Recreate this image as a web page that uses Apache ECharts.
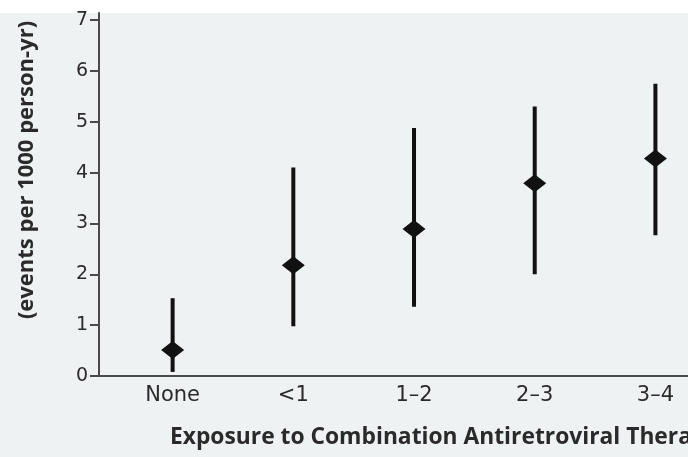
<!DOCTYPE html>
<html>
<head>
<meta charset="utf-8">
<script src="https://cdn.jsdelivr.net/npm/echarts@6/dist/echarts.min.js"></script>
<style>
html,body{margin:0;padding:0;background:#fff;}
#chart{width:688px;height:457px;}
</style>
</head>
<body>
<div id="chart"></div>
<script>
var categories = ['None', '<1', '1\u20132', '2\u20133', '3\u20134'];
var estimates = [0.51, 2.18, 2.89, 3.79, 4.28];
var lowerCI = [0.08, 0.98, 1.36, 2.0, 2.77];
var upperCI = [1.53, 4.10, 4.88, 5.30, 5.75];
var yTicks = [0, 1, 2, 3, 4, 5, 6, 7];
var xTitle = 'Exposure to Combination Antiretroviral Therapy (yr)';
var yTitle = '(events per 1000 person-yr)';

var catIdx = categories.map(function (c, i) { return i; });
var pointData = catIdx.map(function (i) { return [i, estimates[i]]; });
var ciData = catIdx.map(function (i) { return [i, lowerCI[i], upperCI[i]]; });

var chart = echarts.init(document.getElementById('chart'), null, {renderer: 'canvas'});
chart.setOption({
  backgroundColor: '#eef2f3',
  animation: false,
  grid: {left: 99, right: 0, top: 13, bottom: 81, containLabel: false},
  graphic: [
    {type: 'rect', left: 0, top: 0, z: -10, shape: {width: 688, height: 13}, style: {fill: '#ffffff'}},
    {type: 'text', x: 27, y: 170, rotation: Math.PI / 2,
     style: {text: yTitle, fill: '#2a2a2a', font: 'bold 22px "Open Sans"', align: 'center', verticalAlign: 'middle'}},
    {type: 'text', x: 170, y: 438,
     style: {text: xTitle, fill: '#2a2a2a', font: 'bold 22.8px "Open Sans"', align: 'left', verticalAlign: 'middle'}}
  ],
  xAxis: {
    type: 'value', min: -0.61, max: 4.27,
    splitLine: {show: false},
    axisLine: {show: true, onZero: false, lineStyle: {color: '#4a4a4a', width: 2}},
    axisTick: {show: false},
    axisLabel: {
      customValues: catIdx,
      formatter: function (v) { return categories[Math.round(v)]; },
      color: '#2a2a2a', fontFamily: 'DejaVu Sans', fontSize: 21, margin: 9
    }
  },
  yAxis: {
    type: 'value', min: 0, max: 7.14,
    splitLine: {show: false},
    axisLine: {show: true, onZero: false, lineStyle: {color: '#4a4a4a', width: 2}},
    axisTick: {show: true, customValues: yTicks, length: 9, lineStyle: {color: '#4a4a4a', width: 2}},
    axisLabel: {customValues: yTicks, color: '#2a2a2a', fontFamily: 'DejaVu Sans', fontSize: 19, margin: 11}
  },
  series: [
    {
      type: 'custom',
      data: ciData,
      renderItem: function (params, api) {
        var x = api.value(0);
        var p1 = api.coord([x, api.value(1)]);
        var p2 = api.coord([x, api.value(2)]);
        return {type: 'line', shape: {x1: p1[0], y1: p1[1], x2: p2[0], y2: p2[1]},
                style: {stroke: '#111', lineWidth: 4}};
      },
      z: 2
    },
    {
      type: 'scatter',
      data: pointData,
      symbol: 'diamond',
      symbolSize: [23, 18],
      itemStyle: {color: '#111', opacity: 1},
      z: 3
    }
  ]
});
</script>
</body>
</html>
